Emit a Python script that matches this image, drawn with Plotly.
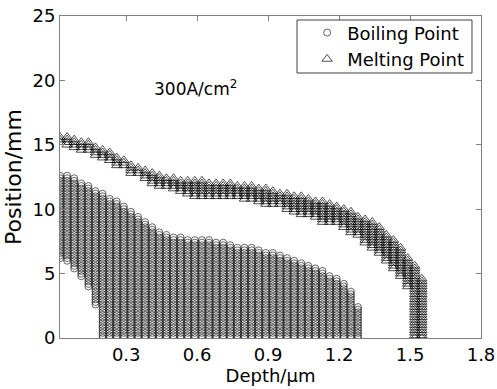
import numpy as np
import plotly.graph_objects as go

# Depth columns (um) of the simulation grid
depth_boil = [0.02, 0.05, 0.08, 0.11, 0.14, 0.17, 0.20, 0.23, 0.26, 0.29, 0.32,
              0.35, 0.38, 0.41, 0.44, 0.47, 0.50, 0.53, 0.56, 0.59, 0.62, 0.65,
              0.68, 0.71, 0.74, 0.77, 0.80, 0.83, 0.86, 0.89, 0.92, 0.95, 0.98,
              1.01, 1.04, 1.07, 1.10, 1.13, 1.16, 1.19, 1.22, 1.25, 1.28]
# Boiling region: upper / lower position (mm) per depth column
boil_top = [12.65, 12.6, 12.4, 12.1, 11.8, 11.5, 11.2, 10.9, 10.6, 10.2, 9.8,
            9.4, 9.0, 8.6, 8.3, 8.1, 7.9, 7.8, 7.7, 7.7, 7.6, 7.6,
            7.5, 7.4, 7.2, 7.1, 7.1, 7.0, 6.9, 6.7, 6.6, 6.5, 6.2,
            6.0, 5.9, 5.6, 5.4, 5.2, 4.9, 4.7, 4.2, 3.6, 2.5]
boil_bot = [6.1, 6.0, 5.4, 4.7, 3.9, 2.6, 0, 0, 0, 0, 0,
            0, 0, 0, 0, 0, 0, 0, 0, 0, 0, 0,
            0, 0, 0, 0, 0, 0, 0, 0, 0, 0, 0,
            0, 0, 0, 0, 0, 0, 0, 0, 0, 0]

depth_melt = [0.02, 0.05, 0.08, 0.11, 0.14, 0.17, 0.20, 0.23, 0.26, 0.29, 0.32,
              0.35, 0.38, 0.41, 0.44, 0.47, 0.50, 0.53, 0.56, 0.59, 0.62, 0.65,
              0.68, 0.71, 0.74, 0.77, 0.80, 0.83, 0.86, 0.89, 0.92, 0.95, 0.98,
              1.01, 1.04, 1.07, 1.10, 1.13, 1.16, 1.19, 1.22, 1.25, 1.28, 1.31,
              1.34, 1.37, 1.40, 1.43, 1.46, 1.49, 1.52, 1.55]
melt_top = [15.67, 15.67, 15.57, 15.36, 15.23, 14.97, 14.67, 14.44, 14.17, 13.90, 13.55,
            13.29, 13.08, 12.81, 12.72, 12.58, 12.52, 12.38, 12.31, 12.27, 12.23, 12.15,
            12.07, 12.00, 12.00, 11.96, 11.92, 11.88, 11.76, 11.61, 11.49, 11.37, 11.30,
            11.18, 11.06, 10.91, 10.75, 10.64, 10.52, 10.37, 10.05, 9.82, 9.59, 9.36,
            9.05, 8.66, 8.19, 7.65, 7.03, 6.33, 5.63, 4.62]
melt_bot = [15.02, 14.87, 14.64, 14.48, 14.48, 14.09, 13.86, 13.70, 13.32, 13.32, 12.77,
            12.77, 12.38, 11.92, 11.61, 11.61, 11.53, 11.37, 11.14, 10.99, 10.99, 10.99,
            10.91, 10.83, 10.83, 10.83, 10.75, 10.75, 10.44, 10.37, 10.37, 10.21, 9.90,
            9.74, 9.59, 9.51, 9.28, 8.97, 8.81, 8.81, 8.50, 8.19, 7.88, 7.34,
            6.95, 6.48, 5.94, 5.40, 4.62, 4.00, 0, 0]

# Position sampling grid of the simulation (mm)
position_grid = np.arange(0, 25.001, 0.2)

x_ticks = [0.3, 0.6, 0.9, 1.2, 1.5, 1.8]
y_ticks = [0, 5, 10, 15, 20, 25]


def region(depths, tops, bots):
    xs, ys = [], []
    for d, t, b in zip(depths, tops, bots):
        sel = position_grid[(position_grid >= b - 1e-9) & (position_grid <= t + 1e-9)]
        xs.extend([d] * len(sel))
        ys.extend(sel.tolist())
    return xs, ys


bx, by = region(depth_boil, boil_top, boil_bot)
mx, my = region(depth_melt, melt_top, melt_bot)

FONT = "DejaVu Sans, Liberation Sans, Arial, sans-serif"

fig = go.Figure()
fig.add_trace(go.Scatter(
    x=bx, y=by, mode="markers", name="Boiling Point",
    marker=dict(symbol="circle-open", size=7, color="black", line=dict(width=0.6)),
))
fig.add_trace(go.Scatter(
    x=mx, y=my, mode="markers", name="Melting Point",
    marker=dict(symbol="triangle-up-open", size=9, color="black", line=dict(width=0.7)),
))

fig.add_annotation(x=0.41, y=19.4, xref="x", yref="y", text="300A/cm<sup>2</sup>",
                   showarrow=False, xanchor="left", yanchor="middle",
                   font=dict(family=FONT, size=17, color="black"))

# legend frame
fig.add_shape(type="rect", xref="paper", yref="paper",
              x0=0.563, x1=0.9786, y0=0.823, y1=0.9876,
              line=dict(color="#404040", width=1), fillcolor="white", layer="above")

axis_common = dict(showline=True, mirror="ticks", linecolor="#7f7f7f", linewidth=1,
                   ticks="inside", ticklen=5, tickcolor="#7f7f7f", showgrid=False,
                   zeroline=False, automargin=False,
                   tickfont=dict(family=FONT, size=18, color="black"))

fig.update_xaxes(range=[0.02, 1.8], tickvals=x_ticks, ticktext=[f"{v:.1f}" for v in x_ticks],
                 title=dict(text="Depth/\u03bcm", font=dict(family=FONT, size=18, color="black"),
                            standoff=2),
                 **axis_common)
fig.update_yaxes(range=[0, 25], tickvals=y_ticks, ticktext=[str(v) for v in y_ticks],
                 title=dict(text="Position/mm", font=dict(family=FONT, size=22, color="black"),
                            standoff=4),
                 **axis_common)

fig.update_layout(
    width=497, height=389,
    margin=dict(l=60, r=16, t=16, b=51),
    plot_bgcolor="white", paper_bgcolor="white",
    showlegend=True,
    legend=dict(x=0.587, y=1.005, xanchor="left", yanchor="top",
                bgcolor="rgba(0,0,0,0)", borderwidth=0,
                font=dict(family=FONT, size=18, color="black"),
                itemsizing="trace", tracegroupgap=0),
)

fig.write_html("out.html")
